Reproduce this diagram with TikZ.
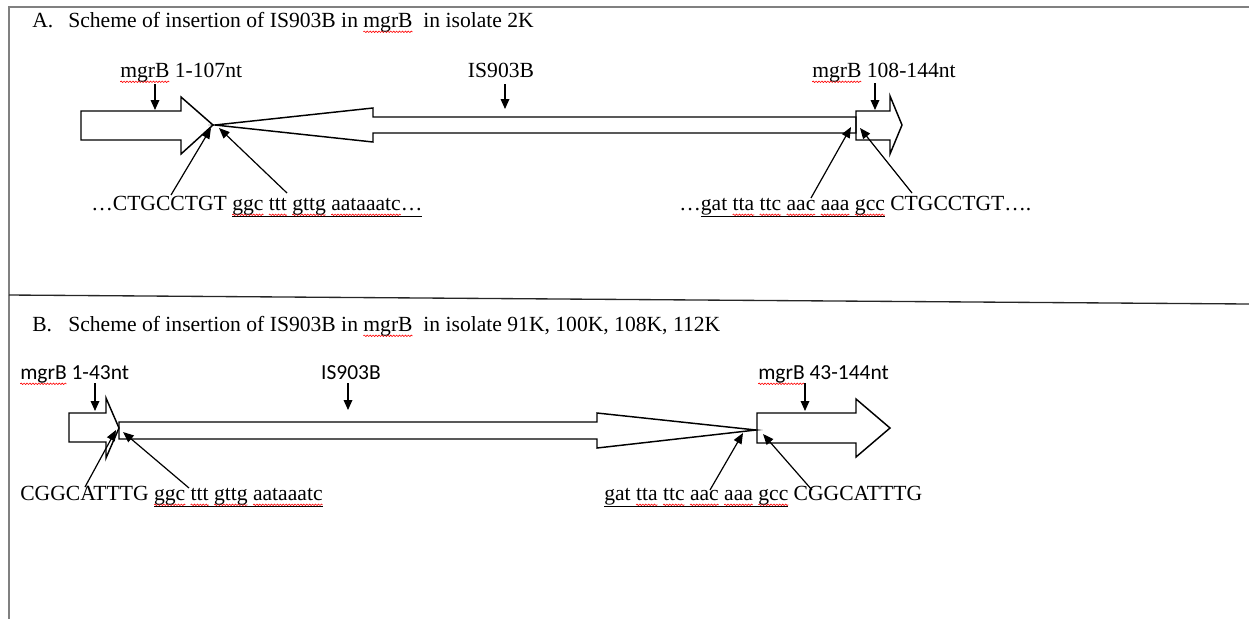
\documentclass[tikz,border=0pt]{standalone}
\usepackage{fontspec}
\setmainfont{Liberation Serif}
\newfontfamily\calfont{Carlito}
\usetikzlibrary{arrows.meta,decorations.pathmorphing}
\newlength\rwlen
\newcommand\rw[1]{\settowidth\rwlen{#1}\rlap{\tikz[overlay,baseline=0pt]\draw[red,line width=0.45pt,decorate,decoration={snake,amplitude=0.55pt,segment length=2.2pt}] (0pt,-3.6pt) -- (\rwlen,-3.6pt);}#1}
\begin{document}
\begin{tikzpicture}[x=0.75pt,y=-0.75pt,
  font=\fontsize{16.2}{19}\selectfont,
  shp/.style={draw=black,line width=1.1pt,line join=miter},
  ptr/.style={draw=black,line width=0.9pt,-{Triangle[length=8pt,width=6.5pt]}},
  dwn/.style={draw=black,line width=0.9pt,-{Triangle[length=7.5pt,width=6.5pt]}},
  lab/.style={inner sep=0pt,anchor=base west},
  sans/.style={font=\calfont\fontsize{16.1}{19}\selectfont}]
\useasboundingbox (0,0) rectangle (1249,619);
% frame
\draw[gray,line width=1pt] (1249,7) -- (9,7) -- (9,619);
\draw[black!85,line width=1pt] (9,295) -- (1249,304);

% ---------- Panel A ----------
\node[lab] (tA1) at (32,27) {A.};
\node[lab] (tA2) at (68,27) {Scheme of insertion of IS903B in \rw{mgrB}\ \ in isolate 2K};
\node[lab] (lA1) at (120,77) {\rw{mgrB} 1-107nt};
\node[lab,anchor=base] (lA2) at (501,77) {IS903B};
\node[lab] (lA3) at (812,77) {\rw{mgrB} 108-144nt};

\draw[shp] (81,111) -- (181,111) -- (181,97) -- (213,125) -- (181,154) -- (181,140) -- (81,140) -- cycle;
\draw[shp] (215,125) -- (373,108) -- (373,117) -- (856,117) -- (856,133) -- (373,133) -- (373,142) -- cycle;
\draw[shp] (856,111) -- (890,111) -- (890,96) -- (902,125) -- (890,154) -- (890,140) -- (856,140) -- cycle;

\coordinate (dA1s) at (155,84);  \coordinate (dA1e) at (155,110);
\coordinate (dA2s) at (505,84);  \coordinate (dA2e) at (505,109);
\coordinate (dA3s) at (875,83);  \coordinate (dA3e) at (875,110);
\draw[dwn] (dA1s) -- (dA1e);
\draw[dwn] (dA2s) -- (dA2e);
\draw[dwn] (dA3s) -- (dA3e);

\node[lab] (sA1) at (91,210) {…CTGCCTGT \underline{\rw{ggc} \rw{ttt} \rw{gttg} \rw{aataaatc}…}};
\node[lab] (sA2) at (679,210) {…\underline{gat \rw{tta} \rw{ttc} \rw{aac} \rw{aaa} \rw{gcc}} CTGCCTGT….};

\coordinate (pA1s) at (171,195); \coordinate (pA1e) at (211,128);
\coordinate (pA2s) at (287,193); \coordinate (pA2e) at (219,128);
\coordinate (pA3s) at (811,198); \coordinate (pA3e) at (851,127);
\coordinate (pA4s) at (912,193); \coordinate (pA4e) at (860,128);
\draw[ptr] (pA1s) -- (pA1e);
\draw[ptr] (pA2s) -- (pA2e);
\draw[ptr] (pA3s) -- (pA3e);
\draw[ptr] (pA4s) -- (pA4e);

% ---------- Panel B ----------
\node[lab] (tB1) at (32,331) {B.};
\node[lab] (tB2) at (68,331) {Scheme of insertion of IS903B in \rw{mgrB}\ \ in isolate 91K, 100K, 108K, 112K};
\node[lab,sans] (lB1) at (20,379) {\rw{mgrB} 1-43nt};
\node[lab,sans,anchor=base] (lB2) at (351,379) {IS903B};
\node[lab,sans] (lB3) at (758,379) {\rw{mgrB} 43-144nt};

\draw[shp] (69,413) -- (106,413) -- (106,398) -- (119,428) -- (106,458) -- (106,442) -- (69,442) -- cycle;
\draw[shp] (119,422) -- (597,422) -- (597,413) -- (756,430) -- (597,448) -- (597,439) -- (119,439) -- cycle;
\draw[shp] (757,413) -- (856,413) -- (856,399) -- (890,428) -- (856,457) -- (856,443) -- (757,443) -- cycle;

\coordinate (dB1s) at (95,383);  \coordinate (dB1e) at (95,411);
\coordinate (dB2s) at (348,383); \coordinate (dB2e) at (348,410);
\coordinate (dB3s) at (805,383); \coordinate (dB3e) at (805,411);
\draw[dwn] (dB1s) -- (dB1e);
\draw[dwn] (dB2s) -- (dB2e);
\draw[dwn] (dB3s) -- (dB3e);

\node[lab] (sB1) at (20,500) {CGGCATTTG \underline{\rw{ggc} \rw{ttt} \rw{gttg} \rw{aataaatc}}};
\node[lab] (sB2) at (604,500) {\underline{gat \rw{tta} \rw{ttc} \rw{aac} \rw{aaa} \rw{gcc}} CGGCATTTG};

\coordinate (pB1s) at (85,487);  \coordinate (pB1e) at (116,430);
\coordinate (pB2s) at (189,488); \coordinate (pB2e) at (123,432);
\coordinate (pB3s) at (710,490); \coordinate (pB3e) at (743,433);
\coordinate (pB4s) at (812,490); \coordinate (pB4e) at (763,434);
\draw[ptr] (pB1s) -- (pB1e);
\draw[ptr] (pB2s) -- (pB2e);
\draw[ptr] (pB3s) -- (pB3e);
\draw[ptr] (pB4s) -- (pB4e);
\end{tikzpicture}
\end{document}
